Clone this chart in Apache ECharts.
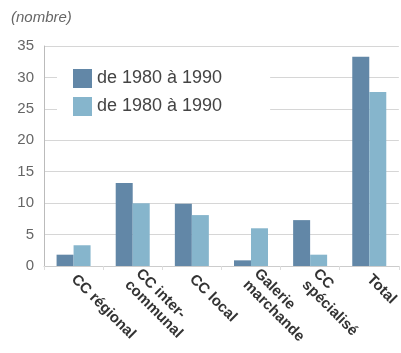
<!DOCTYPE html>
<html>
<head>
<meta charset="utf-8">
<script src="https://cdn.jsdelivr.net/npm/echarts@6/dist/echarts.min.js"></script>
<style>
  html, body { margin: 0; padding: 0; background: #fff; }
  #chart { width: 401px; height: 353px; }
</style>
</head>
<body>
<div id="chart"></div>
<script>
// Shopping centre counts per type, two periods
const categories = ['CC régional', 'CC inter-\ncommunal', 'CC local', 'Galerie\nmarchande', 'CC\nspécialisé', 'Total'];
const seriesA = [1.8, 13.2, 9.9, 0.9, 7.3, 33.3];
const seriesB = [3.3, 10.0, 8.1, 6.0, 1.8, 27.7];
const legendLabels = ['de 1980 à 1990', 'de 1980 à 1990'];
const yTicks = [0, 5, 10, 15, 20, 25, 30, 35];

const chart = echarts.init(document.getElementById('chart'));
chart.setOption({
  animation: false,
  backgroundColor: '#fff',
  textStyle: { fontFamily: 'Liberation Sans, Arial, sans-serif' },
  graphic: [{
    type: 'text', left: 11, top: 10,
    style: { text: '(nombre)', font: 'italic 15px "Liberation Sans", Arial, sans-serif', fill: '#666' }
  }],
  legend: {
    orient: 'vertical',
    left: 57, top: 62,
    padding: [7, 48, 7, 16],
    backgroundColor: '#fff',
    itemWidth: 19, itemHeight: 19,
    itemGap: 9,
    icon: 'rect',
    data: ['a', 'b'],
    formatter: name => legendLabels[name === 'a' ? 0 : 1],
    textStyle: { fontSize: 18, color: '#444' },
    z: 5
  },
  grid: { left: 44, top: 46, width: 362, bottom: 87, containLabel: false },
  xAxis: {
    type: 'category',
    data: categories,
    axisLine: { show: true, lineStyle: { color: '#ccc' } },
    axisTick: { show: true, length: 4, lineStyle: { color: '#ddd' } },
    axisLabel: {
      rotate: -45, fontSize: 15, fontWeight: 'bold', color: '#333', margin: 11, lineHeight: 16,
      interval: 0
    }
  },
  yAxis: {
    type: 'value', min: 0, max: 35, interval: 5,
    axisLine: { show: true, lineStyle: { color: '#bbb' } },
    axisTick: { show: false },
    splitLine: { lineStyle: { color: '#d6d6d6', width: 1.2 } },
    axisLabel: {
      color: '#666', fontSize: 15, margin: 10,
      formatter: v => yTicks.includes(v) ? String(v) : ''
    }
  },
  series: [
    { name: 'a', type: 'bar', data: seriesA, barWidth: 17, barGap: '0%', itemStyle: { color: '#6287a7' } },
    { name: 'b', type: 'bar', data: seriesB, barWidth: 17, itemStyle: { color: '#86b5cc' } }
  ]
});
</script>
</body>
</html>
